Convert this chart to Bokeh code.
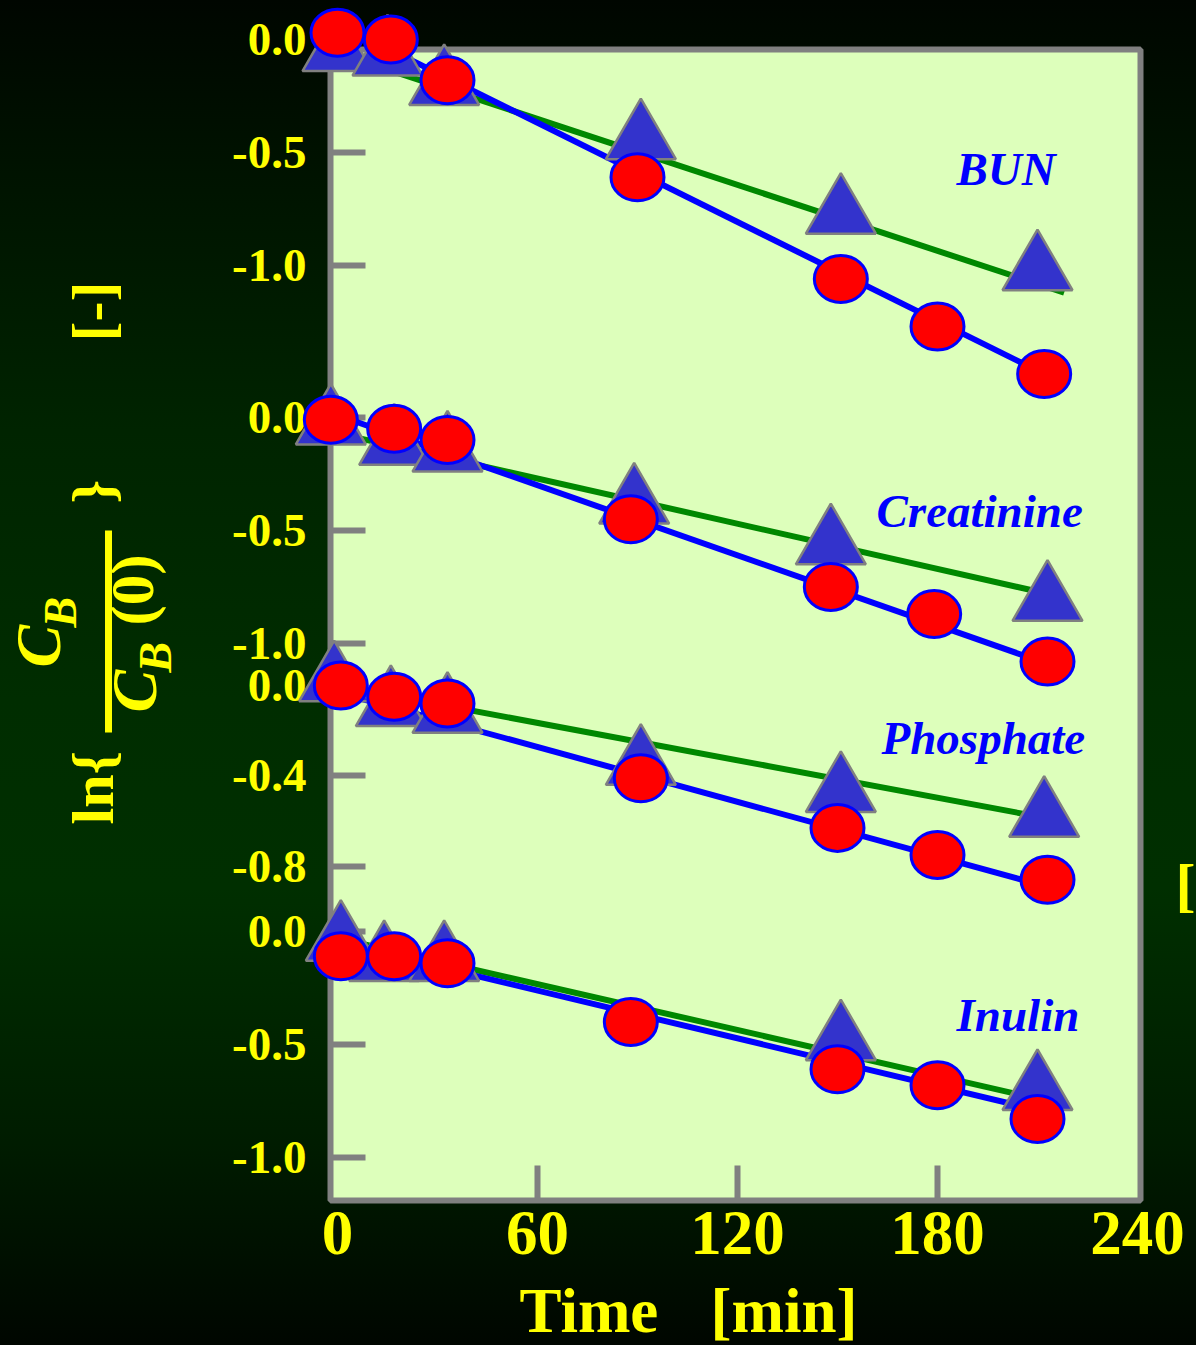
import math
from bokeh.plotting import figure
from bokeh.models import Range1d, FixedTicker
from bokeh.core.properties import value
from bokeh.embed import file_html
from bokeh.resources import INLINE

# ---------------- data ----------------
panel_names = ["BUN", "Creatinine", "Phosphate", "Inulin"]

# red circles (blue line)
bun_circle_t = [0, 16, 33, 90, 151, 180, 212]
bun_circle_v = [0.03, 0.00, -0.18, -0.61, -1.06, -1.27, -1.48]
creat_circle_t = [-2, 17, 33, 88, 148, 179, 213]
creat_circle_v = [-0.01, -0.05, -0.10, -0.45, -0.75, -0.87, -1.08]
phos_circle_t = [1, 17, 33, 91, 150, 180, 213]
phos_circle_v = [0.00, -0.05, -0.08, -0.41, -0.63, -0.75, -0.86]
inul_circle_t = [1, 17, 33, 88, 150, 180, 210]
inul_circle_v = [-0.11, -0.11, -0.14, -0.40, -0.61, -0.68, -0.83]

# blue triangles (green line)
bun_tri_t = [0, 15, 32, 91, 151, 210]
bun_tri_v = [-0.05, -0.07, -0.20, -0.44, -0.77, -1.02]
creat_tri_t = [-2, 17, 33, 89, 148, 213]
creat_tri_v = [-0.03, -0.12, -0.15, -0.38, -0.56, -0.81]
phos_tri_t = [-1, 16, 33, 91, 151, 212]
phos_tri_v = [0.02, -0.09, -0.12, -0.35, -0.47, -0.58]
inul_tri_t = [1, 14, 32, 151, 210]
inul_tri_v = [-0.04, -0.13, -0.13, -0.48, -0.70]

# fitted straight lines (end points)
bun_blue_t, bun_blue_v = [0, 212], [0.07, -1.48]
bun_green_t, bun_green_v = [0, 218], [-0.06, -1.12]
creat_blue_t, creat_blue_v = [0, 213], [0.01, -1.09]
creat_green_t, creat_green_v = [0, 213], [-0.07, -0.78]
phos_blue_t, phos_blue_v = [0, 213], [-0.03, -0.89]
phos_green_t, phos_green_v = [0, 212], [0.00, -0.585]
inul_blue_t, inul_blue_v = [0, 210], [-0.05, -0.79]
inul_green_t, inul_green_v = [0, 210], [-0.03, -0.74]

# axis ticks
bun_ticks = [0.0, -0.5, -1.0]
creat_ticks = [0.0, -0.5, -1.0]
phos_ticks = [0.0, -0.4, -0.8]
inul_ticks = [0.0, -0.5, -1.0]
x_ticks = [0, 60, 120, 180, 240]
x_tick_marks = [60, 120, 180]

# ---------------- layout helpers ----------------
W, H = 1196, 1345
FL, FR, FT, FB = 330, 1140, 49, 1200
PX_PER_MIN = 10.0 / 3.0
PX_PER_UNIT = 226.0
T_LEFT = -2.1
T_RIGHT = T_LEFT + (FR - FL) / PX_PER_MIN
panel_zero_px = [39, 417, 685, 931]


def sx(px):
    return T_LEFT + (px - FL) / PX_PER_MIN


def sy(py):
    return (panel_zero_px[0] - py) / PX_PER_UNIT


offsets = [sy(z) for z in panel_zero_px]
Y_BOT, Y_TOP = sy(FB), sy(FT)

YELLOW = "#FFFF00"
SERIF = "Liberation Serif"

p = figure(width=W, height=H, x_range=Range1d(T_LEFT, T_RIGHT), y_range=Range1d(Y_BOT, Y_TOP),
           output_backend="svg", toolbar_location=None,
           min_border_left=FL, min_border_right=W - FR, min_border_top=FT, min_border_bottom=H - FB)
p.background_fill_color = "#DDFFBB"
p.border_fill_color = None
p.outline_line_color = "#808080"
p.outline_line_width = 6
p.grid.visible = False
p.styles = {"background": "linear-gradient(180deg, #000600 0%, #001300 13%, #002400 32%, #002d00 52%, #002f00 66%, #001c00 85%, #000600 100%)"}

# x axis
xa = p.xaxis[0]
xa.ticker = FixedTicker(ticks=x_ticks, minor_ticks=x_tick_marks)
xa.axis_line_color = None
xa.major_tick_line_color = None
xa.major_tick_in = 0
xa.major_tick_out = 0
xa.minor_tick_in = 35
xa.minor_tick_out = 0
xa.minor_tick_line_color = "#808080"
xa.minor_tick_line_width = 6
xa.major_label_text_font = SERIF
xa.major_label_text_font_style = "bold"
xa.major_label_text_font_size = "63px"
xa.major_label_text_color = YELLOW
xa.major_label_standoff = 11

# y axis
tick_lists = [bun_ticks, creat_ticks, phos_ticks, inul_ticks]
y_ticks, overrides, outside = [], {}, []
for off, tl in zip(offsets, tick_lists):
    for v in tl:
        yy = round(off + v, 6)
        txt = "%.1f" % v
        if Y_BOT <= yy <= Y_TOP:
            y_ticks.append(yy)
            overrides[yy] = txt
        else:
            outside.append((yy, txt))
ya = p.yaxis[0]
ya.ticker = FixedTicker(ticks=y_ticks)
ya.major_label_overrides = overrides
ya.axis_line_color = None
ya.major_tick_in = 35
ya.major_tick_out = 0
ya.minor_tick_line_color = None
ya.major_tick_line_color = "#808080"
ya.major_tick_line_width = 6
ya.major_label_text_font = SERIF
ya.major_label_text_font_style = "bold"
ya.major_label_text_font_size = "47px"
ya.major_label_text_color = YELLOW
ya.major_label_standoff = 24

# ---------------- series ----------------
circles_t = [bun_circle_t, creat_circle_t, phos_circle_t, inul_circle_t]
circles_v = [bun_circle_v, creat_circle_v, phos_circle_v, inul_circle_v]
tris_t = [bun_tri_t, creat_tri_t, phos_tri_t, inul_tri_t]
tris_v = [bun_tri_v, creat_tri_v, phos_tri_v, inul_tri_v]
blue_t = [bun_blue_t, creat_blue_t, phos_blue_t, inul_blue_t]
blue_v = [bun_blue_v, creat_blue_v, phos_blue_v, inul_blue_v]
green_t = [bun_green_t, creat_green_t, phos_green_t, inul_green_t]
green_v = [bun_green_v, creat_green_v, phos_green_v, inul_green_v]

renderers = []
for i, off in enumerate(offsets):
    renderers.append(p.line(green_t[i], [off + v for v in green_v[i]], line_color="#008800", line_width=6))
    renderers.append(p.line(blue_t[i], [off + v for v in blue_v[i]], line_color="#0000FF", line_width=6))
for i, off in enumerate(offsets):
    renderers.append(p.scatter(tris_t[i], [off + v for v in tris_v[i]], marker="triangle", size=70,
                               fill_color="#3333CC", line_color="#808080", line_width=2.5))
for i, off in enumerate(offsets):
    renderers.append(p.ellipse(circles_t[i], [off + v for v in circles_v[i]], width=53, height=47,
                               width_units="screen", height_units="screen",
                               fill_color="#FF0000", line_color="#0000FF", line_width=3))
for r in renderers:
    r.level = "overlay"

# panel names (anchored at the middle of the capitals)
label_t = [185.7, 161.7, 163.2, 185.7]
label_v = [-0.573, -0.412, -0.232, -0.370]
p.text(label_t, [offsets[i] + label_v[i] for i in range(4)], text=panel_names,
       text_font=value(SERIF), text_font_style="bold italic", text_font_size="47px",
       text_color="#0000FF", text_align="left", text_baseline="middle")


# ---------------- free texts (drawn unclipped) ----------------
def lab(px, py, text, size, style="bold", angle=0.0, align="left"):
    r = p.text(x=[sx(px)], y=[sy(py)], text=[text], angle=angle, text_align=align, text_baseline="middle",
               text_font=value(SERIF), text_font_style=style, text_font_size=size, text_color=YELLOW)
    r.level = "overlay"


for yy, txt in outside:
    r = p.text(x=[sx(FL - 24)], y=[yy], text=[txt], text_align="right", text_baseline="middle",
               text_font=value(SERIF), text_font_style="bold", text_font_size="47px", text_color=YELLOW)
    r.level = "overlay"

lab(519, 1310, "Time", "63px")
lab(710, 1310, "[min]", "63px")

rot = math.pi / 2
lab(92.5, 824, "ln{", "60px", angle=rot)
lab(37.5, 667, "C", "64px", style="bold italic", angle=rot)
lab(60, 627, "B", "46px", style="bold italic", angle=rot)
lab(133.5, 712, "C", "64px", style="bold italic", angle=rot)
lab(154.5, 672, "B", "46px", style="bold italic", angle=rot)
lab(131.5, 625, "(0)", "61px", angle=rot)
lab(92, 503, "}", "60px", angle=rot)
lab(92, 341, "[-]", "60px", angle=rot)
lab(1175, 884, "[", "60px")

bar = p.segment(x0=[sx(108)], y0=[sy(530)], x1=[sx(108)], y1=[sy(732)], line_color=YELLOW, line_width=7)
bar.level = "overlay"

open("out.html", "w").write(file_html(p, INLINE))
